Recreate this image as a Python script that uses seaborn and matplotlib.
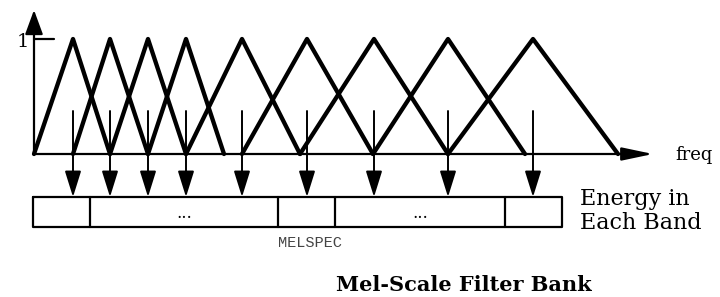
import pandas as pd
import numpy as np
import seaborn as sns
import matplotlib.pyplot as plt

# triangular mel filters: left foot, peak, right foot (freq axis, pixels from origin)
band_left = [0, 39, 76, 114, 152, 208, 266, 339, 414]
band_peak = [39, 76, 114, 152, 208, 273, 340, 414, 499]
band_right = [76, 114, 152, 190, 266, 339, 414, 491, 584]

# energy boxes (segment edges along freq) and their labels
box_edges = [-1, 56, 244, 301, 471, 528]
box_labels = ["", "...", "", "...", ""]

freq_origin = 34   # pixel x of freq = 0
rows = []
for i in range(len(band_peak)):
    rows.append({"band": i, "freq": band_left[i], "gain": 0.0})
    rows.append({"band": i, "freq": band_peak[i], "gain": 1.0})
    rows.append({"band": i, "freq": band_right[i], "gain": 0.0})
df = pd.DataFrame(rows)
df["x"] = df["freq"] + freq_origin

sns.set_style("white")
plt.rcParams['font.family'] = ['DejaVu Serif']
plt.rcParams['text.color'] = 'black'

fig = plt.figure(figsize=(7.2, 2.97), dpi=100)
ax = fig.add_axes([0, 0, 1, 1])

# amplitude units: gain 0 at pixel y 154, gain 1 at pixel y 39
def gy(py):
    return (154 - py) / 115.0

ax.set_xlim(0, 720)
ax.set_ylim(gy(297), gy(0))
ax.axis("off")

sns.lineplot(data=df, x="x", y="gain", units="band", estimator=None, sort=False,
             color="black", linewidth=3.1, ax=ax, legend=False)

# axes with arrows
ax.annotate("", xy=(freq_origin, gy(10)), xytext=(freq_origin, 0),
            arrowprops=dict(arrowstyle="-|>,head_length=1.5,head_width=0.55",
                            mutation_scale=10, color="black", lw=1.6,
                            shrinkA=0, shrinkB=0))
ax.annotate("", xy=(653, 0), xytext=(freq_origin, 0),
            arrowprops=dict(arrowstyle="-|>,head_length=1.9,head_width=0.4",
                            mutation_scale=10, color="black", lw=1.6,
                            shrinkA=0, shrinkB=0))
ax.plot([freq_origin, freq_origin + 20], [1, 1], color="black", lw=1.6)
ax.text(23, gy(42), "1", ha="center", va="center", fontsize=14)
ax.text(675, gy(155), "freq", ha="left", va="center", fontsize=13)

# arrows from filter peaks down to energy boxes
for p in band_peak:
    ax.annotate("", xy=(p + freq_origin, gy(197)), xytext=(p + freq_origin, gy(111)),
                arrowprops=dict(arrowstyle="-|>,head_length=1.6,head_width=0.5",
                                mutation_scale=10, color="black", lw=1.4,
                                shrinkA=0, shrinkB=0))

# energy boxes
top, bot = gy(197), gy(227)
x0, x1 = box_edges[0] + freq_origin, box_edges[-1] + freq_origin
ax.plot([x0, x1, x1, x0, x0], [top, top, bot, bot, top], color="black", lw=1.6)
for e in box_edges[1:-1]:
    ax.plot([e + freq_origin] * 2, [top, bot], color="black", lw=1.6)
for lab, a, b in zip(box_labels, box_edges[:-1], box_edges[1:]):
    if lab:
        ax.text((a + b) / 2 + freq_origin, gy(214), lab, ha="center", va="center",
                fontsize=12)

ax.text(580, gy(211), "Energy in\nEach Band", ha="left", va="center",
        fontsize=16, linespacing=1.15)
ax.text(310, gy(243), "MELSPEC", ha="center", va="center", fontsize=11,
        family="Liberation Mono", color="#444444")
ax.text(464, gy(285), "Mel-Scale Filter Bank", ha="center", va="center",
        fontsize=15, fontweight="bold")

fig.savefig("out.png", dpi=100)
